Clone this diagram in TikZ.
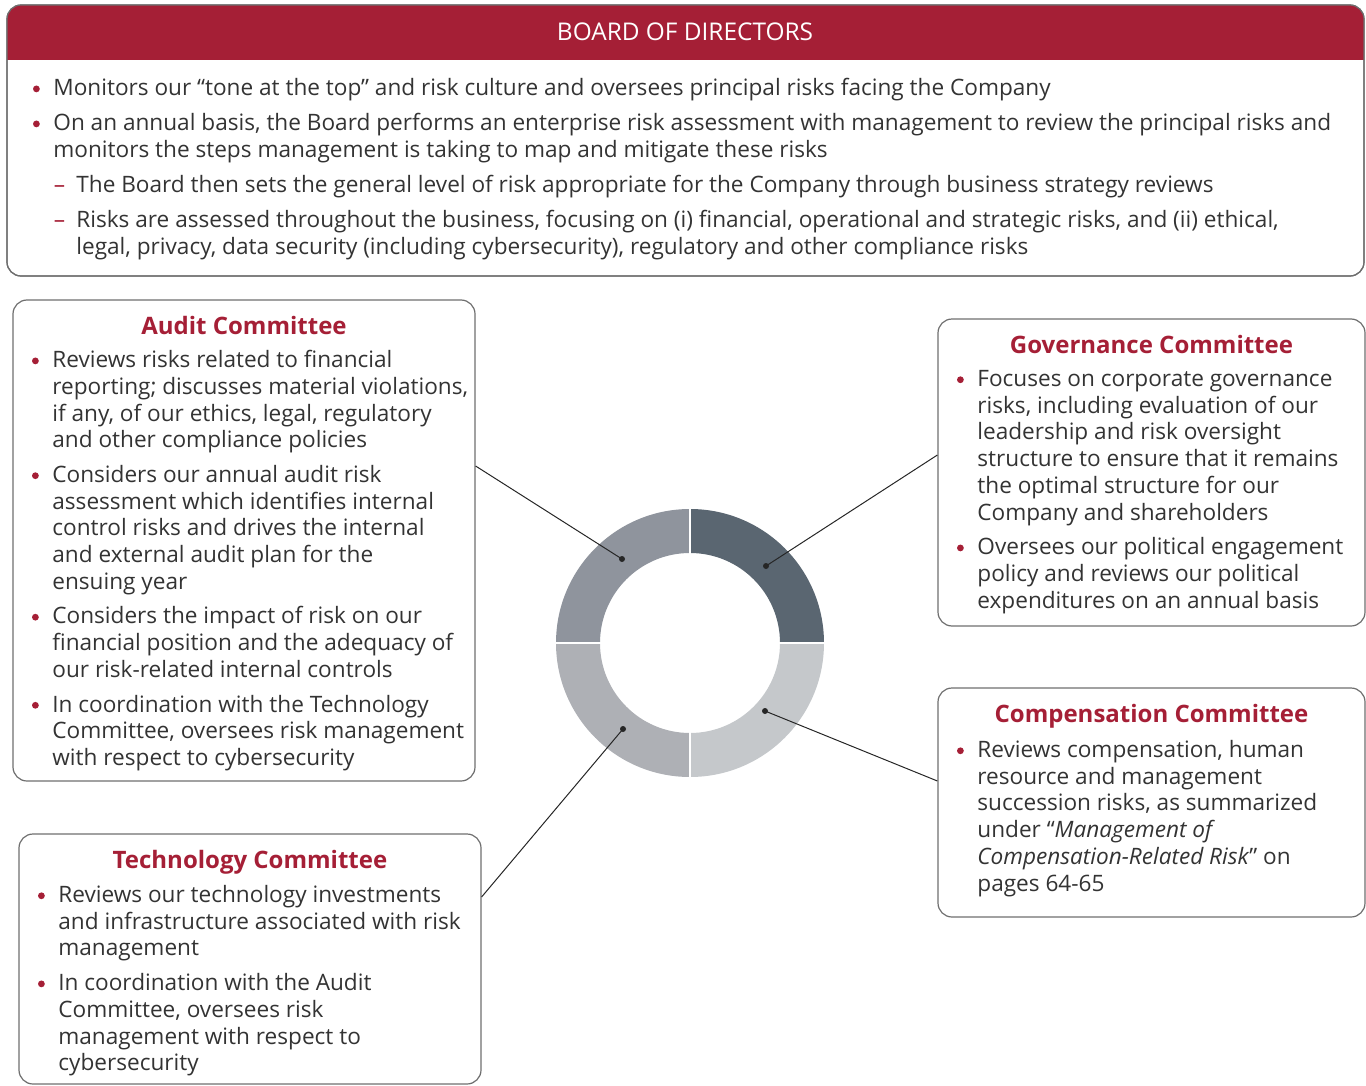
\documentclass[tikz,border=0pt]{standalone}
\usepackage{fontspec}
\setmainfont{Open Sans}
\usepackage{xcolor}
\usetikzlibrary{calc,positioning,fit}
\definecolor{redx}{HTML}{A51F36}
\definecolor{inkx}{HTML}{333333}
\definecolor{edgex}{HTML}{6E6E6E}
\definecolor{segA}{HTML}{5A6671}
\definecolor{segB}{HTML}{8F949D}
\definecolor{segC}{HTML}{AEB0B5}
\definecolor{segD}{HTML}{C5C8CB}
\tikzset{
  panel/.style={draw=edgex,line width=0.6pt,rounded corners=7pt,inner sep=0pt},
  head/.style={font=\fontsize{12}{14}\selectfont\bfseries,text=redx,anchor=base,inner sep=0pt},
  body/.style={font=\fontsize{11.3}{13.35}\selectfont,text=inkx,align=left,anchor=north west,inner sep=0pt},
  lead/.style={draw=black!85,line width=0.5pt},
  pin/.style={circle,fill=black!85,inner sep=0pt,minimum size=3pt}
}
\newcommand{\bu}{\llap{\tikz[baseline]\fill[redx] (0,3.4pt) circle (1.7pt);\hspace{6.8pt}}}
\newcommand{\da}{\llap{\textcolor{redx}{–}\hspace{0.5em}}}
\newcommand{\sub}{\hspace*{11.5pt}}

\begin{document}
\begin{tikzpicture}[x=0.5pt,y=-0.5pt]
\useasboundingbox (0,0) rectangle (1366,1086);

% board of directors
\node[panel,fit={(7,5) (1364,276)}] (board) {};
\begin{scope}
  \clip[rounded corners=7pt] (7,5) rectangle (1364,276);
  \fill[redx] (7,5) rectangle (1364,60);
\end{scope}
\draw[draw=edgex,line width=0.6pt,rounded corners=7pt] (7,5) rectangle (1364,276);
\node[font=\fontsize{12.2}{14}\selectfont,text=white,anchor=base,inner sep=0pt] (boardhd) at (685,41) {BOARD OF DIRECTORS};
\node[body,font=\fontsize{11.3}{13.5}\selectfont] (boardtx) at (53,78) {%
\bu Monitors our “tone at the top” and risk culture and oversees principal risks facing the Company\\[4pt]
\bu On an annual basis, the Board performs an enterprise risk assessment with management to review the principal risks and\\
monitors the steps management is taking to map and mitigate these risks\\[4pt]
\sub\da The Board then sets the general level of risk appropriate for the Company through business strategy reviews\\[4pt]
\sub\da Risks are assessed throughout the business, focusing on (i) financial, operational and strategic risks, and (ii) ethical,\\
\sub legal, privacy, data security (including cybersecurity), regulatory and other compliance risks};

% committees
\node[panel,fit={(13,300) (475,781)}] (audit) {};
\node[head] (audithd) at (audit.north |- 0,334) {Audit Committee};
\node[body] (audittx) at (52,350) {%
\bu Reviews risks related to financial\\
reporting; discusses material violations,\\
if any, of our ethics, legal, regulatory\\
and other compliance policies\\[4pt]
\bu Considers our annual audit risk\\
assessment which identifies internal\\
control risks and drives the internal\\
and external audit plan for the\\
ensuing year\\[4pt]
\bu Considers the impact of risk on our\\
financial position and the adequacy of\\
our risk-related internal controls\\[4pt]
\bu In coordination with the Technology\\
Committee, oversees risk management\\
with respect to cybersecurity};

\node[panel,fit={(938,319) (1365,626)}] (gov) {};
\node[head] (govhd) at (gov.north |- 0,353) {Governance Committee};
\node[body] (govtx) at (977,370) {%
\bu Focuses on corporate governance\\
risks, including evaluation of our\\
leadership and risk oversight\\
structure to ensure that it remains\\
the optimal structure for our\\
Company and shareholders\\[4pt]
\bu Oversees our political engagement\\
policy and reviews our political\\
expenditures on an annual basis};

\node[panel,fit={(938,688) (1365,917)}] (comp) {};
\node[head] (comphd) at (comp.north |- 0,722) {Compensation Committee};
\node[body] (comptx) at (977,740) {%
\bu Reviews compensation, human\\
resource and management\\
succession risks, as summarized\\
under “\textit{Management of}\\
\textit{Compensation-Related Risk}” on\\
pages 64-65};

\node[panel,fit={(19,834) (481,1084)}] (tech) {};
\node[head] (techhd) at (tech.north |- 0,868) {Technology Committee};
\node[body] (techtx) at (58,885) {%
\bu Reviews our technology investments\\
and infrastructure associated with risk\\
management\\[4pt]
\bu In coordination with the Audit\\
Committee, oversees risk\\
management with respect to\\
cybersecurity};

% ring
\coordinate (ring) at (690,643);
\foreach \a/\b/\c in {270/360/segA,180/270/segB,90/180/segC,0/90/segD}{
  \fill[\c] ($(ring)+(\a:134)$) arc[start angle=\a,end angle=\b,radius=134]
    -- ($(ring)+(\b:90)$) arc[start angle=\b,end angle=\a,radius=90] -- cycle;
}
\foreach \a in {0,90,180,270}{
  \draw[white,line width=1pt] ($(ring)+(\a:88)$) -- ($(ring)+(\a:136)$);
}

% pins and leaders
\node[pin] (pA) at (622,559) {};
\node[pin] (pG) at (766,566) {};
\node[pin] (pC) at (765,711) {};
\node[pin] (pT) at (623,729) {};
\draw[lead] (pA.center) -- (audit.east |- 0,466);
\draw[lead] (pG.center) -- (gov.west |- 0,455);
\draw[lead] (pC.center) -- (comp.west |- 0,781);
\draw[lead] (pT.center) -- (tech.east |- 0,897);
\end{tikzpicture}
\end{document}
